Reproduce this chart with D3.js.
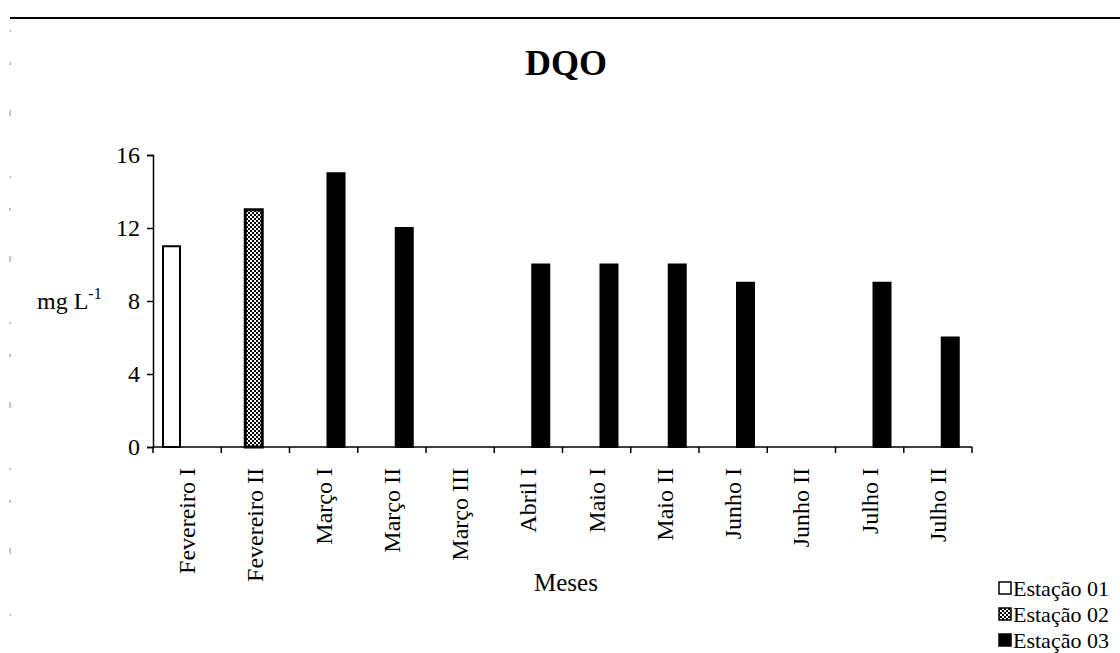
<!DOCTYPE html>
<html><head><meta charset="utf-8">
<script src="https://cdn.jsdelivr.net/npm/d3@7"></script>
<style>
html,body{margin:0;padding:0;background:#fff;}
svg{display:block;}
text{font-family:"Liberation Serif","DejaVu Serif",serif;fill:#000;}
</style></head>
<body>
<svg id="chart" width="1120" height="653"></svg>
<script>
const categories = ["Fevereiro I","Fevereiro II","Março I","Março II","Março III","Abril I","Maio I","Maio II","Junho I","Junho II","Julho I","Julho II"];
const seriesNames = ["Estação 01","Estação 02","Estação 03"];
const estacao01 = [11, null, null, null, null, null, null, null, null, null, null, null];
const estacao02 = [null, 13, null, null, null, null, null, null, null, null, null, null];
const estacao03 = [null, null, 15, 12, null, 10, 10, 10, 9, null, 9, 6];
const yTicks = [0, 4, 8, 12, 16];

const FONT = "Liberation Serif, DejaVu Serif, serif";
const seriesValues = [estacao01, estacao02, estacao03];
const svg = d3.select("#chart");

// pattern for Estação 02
const defs = svg.append("defs");
const pat = defs.append("pattern").attr("id","checker").attr("patternUnits","userSpaceOnUse")
  .attr("width",4).attr("height",4);
pat.append("rect").attr("width",4).attr("height",4).attr("fill","#fff");
pat.append("rect").attr("x",0).attr("y",0).attr("width",2).attr("height",2).attr("fill","#000");
pat.append("rect").attr("x",2).attr("y",2).attr("width",2).attr("height",2).attr("fill","#000");

const fills = ["#fff","url(#checker)","#000"];

// scan frame artifacts
svg.append("line").attr("x1",10).attr("x2",1120).attr("y1",18).attr("y2",18)
  .attr("stroke","#000").attr("stroke-width",2);
svg.append("line").attr("x1",10).attr("x2",10).attr("y1",30).attr("y2",640)
  .attr("stroke","#888").attr("stroke-width",1).attr("stroke-dasharray","2,30,3,45,6,60");

const x = d3.scaleBand().domain(categories).range([153, 972]).padding(0);
const step = x.step();
const x1 = d3.scaleBand().domain(seriesNames).range([10, 52]).padding(0);
const y = d3.scaleLinear().domain([0, 16]).range([447, 155]);

// title
svg.append("text").attr("x",566).attr("y",75).attr("text-anchor","middle")
  .attr("font-family",FONT).attr("font-size",36).attr("font-weight","bold").text("DQO");

// y axis
const yAxis = svg.append("g").attr("transform","translate(153,0)")
  .call(d3.axisLeft(y).tickValues(yTicks).tickSize(6).tickPadding(7).tickFormat(d3.format("d")));
yAxis.attr("font-family",FONT);
yAxis.select(".domain").attr("stroke","#000").attr("stroke-width",1.5);
yAxis.selectAll(".tick line").attr("stroke","#000").attr("stroke-width",1.5);
yAxis.selectAll("text").attr("font-size",24).attr("font-family",FONT);

// y label
const yl = svg.append("text").attr("x",37).attr("y",309).attr("font-size",24).attr("font-family",FONT);
yl.append("tspan").text("mg L");
yl.append("tspan").attr("dy",-10).attr("font-size",16).text("-1");

// bars
seriesValues.forEach((vals, si) => {
  const data = categories.map((c, i) => ({c, v: vals[i]})).filter(d => d.v != null);
  svg.append("g").selectAll("rect").data(data).join("rect")
    .attr("x", d => x(d.c) + x1(seriesNames[si]))
    .attr("width", x1.bandwidth() + 3)
    .attr("y", d => y(d.v))
    .attr("height", d => y(0) - y(d.v))
    .attr("fill", fills[si])
    .attr("stroke", "#000")
    .attr("stroke-width", si === 1 ? 3 : 2);
});

// x axis
const xAxis = svg.append("g").attr("transform","translate(0,447)");
xAxis.append("line").attr("x1",153).attr("x2",972).attr("y1",0).attr("y2",0)
  .attr("stroke","#000").attr("stroke-width",1.5);
const boundaries = categories.map(c => x(c)).concat([x.range()[1]]);
xAxis.selectAll(".bt").data(boundaries).join("line").attr("class","bt")
  .attr("x1",d=>d).attr("x2",d=>d).attr("y1",0).attr("y2",6)
  .attr("stroke","#000").attr("stroke-width",1.5);
xAxis.selectAll(".lbl").data(categories).join("text").attr("class","lbl")
  .attr("transform", d => `translate(${x(d) + step/2 + 8},21) rotate(-90)`)
  .attr("text-anchor","end").attr("font-family",FONT).attr("font-size",24).text(d => d);

// x title
svg.append("text").attr("x",566).attr("y",591).attr("text-anchor","middle")
  .attr("font-family",FONT).attr("font-size",25).text("Meses");

// legend
const lg = svg.append("g");
seriesNames.forEach((s, i) => {
  const base = 596 + i * 26;
  lg.append("rect").attr("x",999).attr("y",base-14).attr("width",12).attr("height",12)
    .attr("fill",fills[i]).attr("stroke","#000").attr("stroke-width",1.5);
  lg.append("text").attr("x",1013).attr("y",base).attr("font-family",FONT).attr("font-size",22).text(s);
});
</script>
</body></html>
